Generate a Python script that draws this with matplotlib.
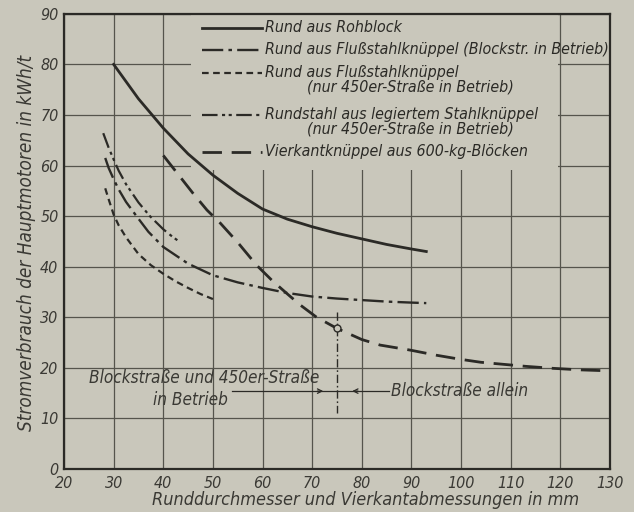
import matplotlib
matplotlib.use("Agg")
import matplotlib.pyplot as plt
from matplotlib.patches import Rectangle
from matplotlib.lines import Line2D

# ---- data ----
x_rohblock = [30, 35, 40, 45, 50, 55, 60, 65, 70, 75, 80, 85, 90, 93]
y_rohblock = [80, 73.2, 67.4, 62.3, 58.1, 54.5, 51.4, 49.4, 47.9, 46.6, 45.5, 44.4, 43.5, 43.0]

x_fluss_block = [28.3, 29, 30, 31, 32.5, 34.6, 37, 40, 45, 50, 55, 60, 65, 70, 75, 80, 85, 90, 93]
y_fluss_block = [61.5, 59.5, 57.3, 55.3, 52.8, 50.0, 46.9, 43.9, 40.6, 38.3, 36.9, 35.8, 34.8,
                 34.1, 33.7, 33.4, 33.1, 32.9, 32.8]

x_fluss_450 = [28.3, 29, 30, 31, 32.5, 35, 37.5, 40, 42.5, 45, 47.5, 50]
y_fluss_450 = [55.5, 53.3, 50.3, 48.2, 45.8, 42.5, 40.3, 38.6, 37.1, 35.8, 34.6, 33.6]

x_legiert = [27.9, 29, 30, 31, 32.5, 35, 37.3, 40, 42, 43.5]
y_legiert = [66.4, 63.5, 61.2, 59.0, 56.3, 52.7, 50.0, 47.4, 45.8, 44.8]

x_vierkant = [40, 42, 44, 46, 48.8, 51.5, 55, 58.8, 62, 64.9, 67.5, 70.9, 75, 80, 83.7,
              89.8, 95, 99.8, 104, 108.5, 113, 118.6, 124, 130]
y_vierkant = [62, 59.5, 57, 54.5, 51.2, 48.6, 44.8, 40.3, 37.2, 34.7, 32.5, 30.0, 27.8, 25.6,
              24.5, 23.5, 22.5, 21.7, 21.1, 20.7, 20.3, 19.9, 19.6, 19.4]

legend_labels = [
    "Rund aus Rohblock",
    "Rund aus Flußstahlknüppel (Blockstr. in Betrieb)",
    "Rund aus Flußstahlknüppel",
    "Rundstahl aus legiertem Stahlknüppel",
    "Vierkantknüppel aus 600-kg-Blöcken",
]
legend_sublabels = ["", "", "(nur 450er-Straße in Betrieb)", "(nur 450er-Straße in Betrieb)", ""]

x_ticks = [20, 30, 40, 50, 60, 70, 80, 90, 100, 110, 120, 130]
y_ticks = [0, 10, 20, 30, 40, 50, 60, 70, 80, 90]

marker_x = [75]
marker_y = [27.8]

# ---- style ----
BG = "#c9c7bb"
INK = "#2b2a26"
TXT = "#3a3934"
GRID = "#55544c"
plt.rcParams["font.family"] = ["DejaVu Sans"]
plt.rcParams["font.style"] = "italic"
plt.rcParams["font.stretch"] = "condensed"

fig = plt.figure(figsize=(6.34, 5.12), dpi=100, facecolor=BG)
ax = fig.add_axes([0.101, 0.084, 0.861, 0.889], facecolor=BG)
ax.set_xlim(20, 130)
ax.set_ylim(0, 90)

ax.set_axisbelow(True)
ax.set_xticks(x_ticks)
ax.set_yticks(y_ticks)
ax.grid(True, color=GRID, lw=0.9)
ax.tick_params(length=0, labelsize=11.5, colors=TXT)
ax.tick_params(axis="x", pad=5)
ax.tick_params(axis="y", pad=4)
for lab in ax.get_xticklabels() + ax.get_yticklabels():
    lab.set_fontstyle("italic")
for s in ax.spines.values():
    s.set_color(INK)
    s.set_linewidth(1.6)

# legend box that hides the grid
ax.add_patch(Rectangle((45.5, 59.2), 74.0, 30.8, facecolor=BG, edgecolor="none", zorder=1))

styles = [
    dict(ls="-", lw=2.0),
    dict(ls=(0, (9, 2.2, 1.5, 2.2)), lw=1.7),
    dict(ls=(0, (3, 2)), lw=1.6),
    dict(ls=(0, (7, 2, 1.4, 1.6, 1.4, 2)), lw=1.6),
    dict(ls=(0, (7, 3.5)), lw=2.0),
]
series = [
    (x_rohblock, y_rohblock),
    (x_fluss_block, y_fluss_block),
    (x_fluss_450, y_fluss_450),
    (x_legiert, y_legiert),
    (x_vierkant, y_vierkant),
]
for (xs, ys), st in zip(series, styles):
    ax.plot(xs, ys, color=INK, zorder=3, **st)

# legend drawn manually
leg_y = [87.2, 82.9, 78.3, 70.0, 62.7]
for st, lab, sub, yy in zip(styles, legend_labels, legend_sublabels, leg_y):
    ax.add_line(Line2D([47.8, 59.9], [yy, yy], color=INK, zorder=3, **st))
    ax.text(60.4, yy, lab, fontsize=11.4, color=INK, va="center", ha="left", zorder=4)
    if sub:
        ax.text(69.0, yy - 2.8, sub, fontsize=11.4, color=INK, va="center", ha="left", zorder=4)

# annotation: open circle and vertical dash-dot divider
ax.plot(marker_x, marker_y, "o", ms=5, mfc=BG, mec=INK, mew=1.0, zorder=4)
ax.plot([75, 75], [31, 11], color=INK, lw=1.0, ls=(0, (6, 2, 1.2, 2)), zorder=3)
ax.plot([53.9, 85.5], [15.4, 15.4], color=INK, lw=0.9, zorder=3)
ax.annotate("", xy=(72.8, 15.4), xytext=(70.5, 15.4),
            arrowprops=dict(arrowstyle="->", color=INK, lw=0.9, mutation_scale=8), zorder=4)
ax.annotate("", xy=(77.5, 15.4), xytext=(79.8, 15.4),
            arrowprops=dict(arrowstyle="->", color=INK, lw=0.9, mutation_scale=8), zorder=4)
ax.text(48.2, 17.9, "Blockstraße und 450er-Straße", fontsize=12.3, color=TXT,
        ha="center", va="center", zorder=4)
ax.text(45.4, 13.6, "in Betrieb", fontsize=12.3, color=TXT,
        ha="center", va="center", zorder=4)
ax.text(85.8, 15.5, "Blockstraße allein", fontsize=12.3, color=TXT,
        ha="left", va="center", zorder=4)

fig.text(366 / 634, 1 - 500 / 512, "Runddurchmesser und Vierkantabmessungen in mm",
         fontsize=13, color=TXT, ha="center", va="center", style="italic")
fig.text(27 / 634, 1 - 243 / 512, "Stromverbrauch der Hauptmotoren in kWh/t",
         fontsize=13.6, color=TXT, ha="center", va="center", rotation=90, style="italic")

fig.savefig("out.png", dpi=100, facecolor=BG)
